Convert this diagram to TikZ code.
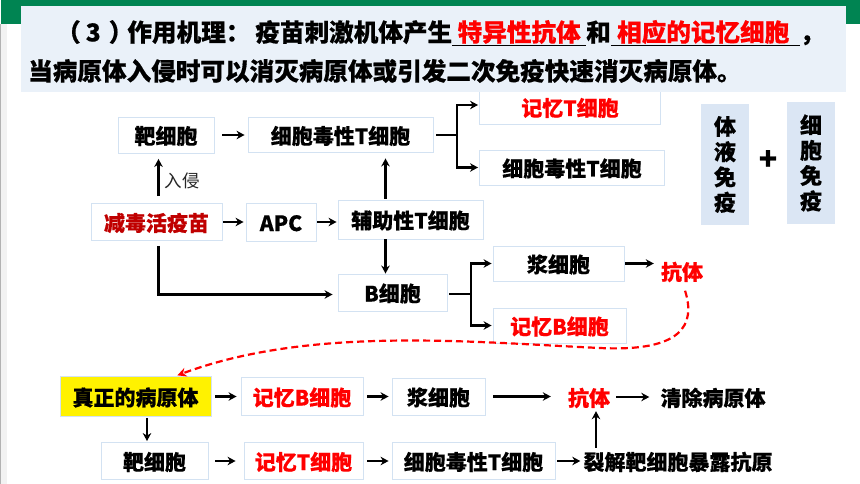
\documentclass[tikz,border=0pt]{standalone}
\usepackage{fontspec}
\setmainfont{Noto Sans CJK SC}[BoldFeatures={FakeBold=0.5}]
\usepackage{xcolor}
\usetikzlibrary{positioning,arrows.meta}
\definecolor{bandgreen}{HTML}{008452}
\definecolor{bannerblue}{HTML}{EAF1F9}
\definecolor{paneblue}{HTML}{DBE6F4}
\definecolor{edgeblue}{HTML}{D3E2F2}
\definecolor{vaccinered}{HTML}{C00000}
\tikzset{
  cellbox/.style={rectangle, draw=edgeblue, line width=0.9pt, fill=white, inner sep=0pt, text height=19pt, text depth=1pt, font=\fontsize{21}{21}\selectfont\bfseries},
  redtext/.style={text=red},
  plaintext/.style={inner sep=0pt, text height=19pt, text depth=1pt, font=\fontsize{21}{21}\selectfont\bfseries},
  paneltext/.style={rectangle, fill=paneblue, inner sep=0pt, minimum width=48pt, minimum height=121pt, align=center, font=\fontsize{22}{25.3}\selectfont\bfseries},
  bannertext/.style={inner sep=0pt, anchor=west, font=\fontsize{24.6}{24.6}\selectfont\bfseries},
  arr/.style={-{Stealth[length=8pt,width=8.5pt]}, line width=2.2pt, black, shorten <=#1},
  arr/.default=1pt,
  stem/.style={line width=2.2pt, black}
}
\newcommand{\blank}[2]{\underline{\makebox[#1pt]{\textcolor{red}{#2}}}}
\begin{document}
\begin{tikzpicture}[x=1pt,y=-1pt]
\useasboundingbox (0,0) rectangle (860,484);
\fill[white] (0,0) rectangle (860,484);
\fill[bandgreen] (1,0) rectangle (860,24);
\fill[black!30] (0,24) rectangle (1.3,484);
\fill[black!5] (1.3,24) rectangle (7,484);

% upper flow chart
\node (target1) [cellbox, minimum width=96pt, minimum height=36pt] at (166,135) {靶细胞};
\node (cytoT1) [cellbox, minimum width=185pt, minimum height=35pt] at (340.5,135) {细胞毒性T细胞};
\node (memT1) [cellbox, redtext, minimum width=181pt, minimum height=34pt] at (570,107) {记忆T细胞};
\node (cytoT2) [cellbox, minimum width=185pt, minimum height=35pt] at (572,167.5) {细胞毒性T细胞};
\node (vaccine) [cellbox, text=vaccinered, minimum width=131pt, minimum height=37pt] at (156.5,222) {减毒活疫苗};
\node (apc) [cellbox, minimum width=70pt, minimum height=38pt] at (281,222) {APC};
\node (helper) [cellbox, minimum width=145pt, minimum height=39pt] at (410.5,219.5) {辅助性T细胞};
\node (bcell) [cellbox, minimum width=109pt, minimum height=37pt] at (392.5,292.5) {B细胞};
\node (plasma1) [cellbox, minimum width=131pt, minimum height=35pt] at (558.5,263.5) {浆细胞};
\node (memB1) [cellbox, redtext, minimum width=133pt, minimum height=35pt] at (559.5,325.5) {记忆B细胞};
\node (antibody1) [plaintext, redtext] at (682,271) {抗体};
\node (invade) [inner sep=0pt, font=\fontsize{17.5}{17.5}\selectfont, text=black!85] at (182,181) {入侵};

% banner covers the top of the memory box
\node (banner) [rectangle, fill=bannerblue, inner sep=0pt, minimum width=825pt, minimum height=86pt] at (433.5,49) {};
\node (line1) [bannertext] at (56,33) {（\hspace{5pt}3\hspace{8pt}）\hspace{-6pt}作用机理：\hspace{5pt}疫苗刺激机体产生\blank{134}{特异性抗体}和\blank{189}{相应的记忆细胞\,}，};
\node (line2) [bannertext] at (28,71) {当病原体入侵时可以消灭病原体或引发二次免疫快速消灭病原体。};

% side panels
\node (humoral) [paneltext] at (725,164.5) {体\\液\\免\\疫};
\node (cellular) [paneltext] at (811,163) {细\\胞\\免\\疫};
\node (plus) [inner sep=0pt, font=\fontsize{30}{30}\selectfont\bfseries] at (768,160) {+};

% lower flow chart
\node (virus) [cellbox, fill=yellow, minimum width=151pt, minimum height=40pt] at (135.5,396.5) {真正的病原体};
\node (memB2) [cellbox, redtext, minimum width=122pt, minimum height=38pt] at (302,396.5) {记忆B细胞};
\node (plasma2) [cellbox, minimum width=93pt, minimum height=37pt] at (438.5,396.5) {浆细胞};
\node (antibody2) [plaintext, redtext] at (589,397) {抗体};
\node (clear) [plaintext] at (713,397) {清除病原体};
\node (target2) [cellbox, minimum width=107pt, minimum height=37pt] at (154.5,461) {靶细胞};
\node (memT2) [cellbox, redtext, minimum width=119pt, minimum height=37pt] at (303.5,461) {记忆T细胞};
\node (cytoT3) [cellbox, minimum width=163pt, minimum height=37pt] at (473.5,461) {细胞毒性T细胞};
\node (lysis) [plaintext] at (678,461) {裂解靶细胞暴露抗原};

\coordinate (fork1) at (457,135);
\coordinate (fork2) at (471,294);

% upper arrows
\draw[arr=8pt, shorten >=3pt] (target1) -- (cytoT1);
\draw[arr=7pt, shorten >=5.5pt] ([xshift=2pt]vaccine.north) -- ([xshift=-7.5pt]target1.south);
\draw[arr=1pt, shorten >=2pt] (vaccine) -- (apc);
\draw[arr=1pt, shorten >=1pt] (apc.east) -- (helper.west |- apc.east);
\draw[arr=1pt, shorten >=5.5pt] ([xshift=-25pt]helper.north) -- ([xshift=45pt]cytoT1.south);
\draw[arr=0pt] ([xshift=-25pt]helper.south) -- ([xshift=-7pt]bcell.north);
\draw[arr=5pt, shorten >=5pt] ([xshift=2pt]vaccine.south) |- ([yshift=-2pt]bcell.west);
\draw[stem, shorten <=3pt] (cytoT1.east) -- (fork1);
\draw[arr=0pt, shorten >=1pt] (fork1) |- ([yshift=2pt]memT1.west);
\draw[arr=0pt, shorten >=1pt] (fork1) |- (cytoT2.west);
\draw[stem, shorten <=2pt] ([yshift=-1.5pt]bcell.east) -- (fork2);
\draw[arr=0pt, shorten >=1pt] (fork2) |- (plasma1.west);
\draw[arr=0pt, shorten >=1pt] (fork2) |- (memB1.west);
\draw[arr=1pt, shorten >=7pt] (plasma1.east) -- (antibody1.west |- plasma1.east);

% red dashed return
\draw[red, line width=2.2pt, dash pattern=on 7pt off 4pt, -{Stealth[length=9pt,width=9pt]}, shorten <=10pt, shorten >=2pt] (antibody1.south) .. controls (696,325) and (682,352) .. (600,348) .. controls (470,342) and (310,326) .. ([xshift=40pt]virus.north);

% lower arrows
\draw[arr=4pt, shorten >=4pt] (virus) -- (memB2);
\draw[arr=4pt, shorten >=3pt] (memB2) -- (plasma2);
\draw[arr=8pt, shorten >=17pt] (plasma2.east) -- (antibody2.west |- plasma2.east);
\draw[arr=6pt, shorten >=11pt] (antibody2) -- (clear);
\draw[arr=1pt, shorten >=1pt] ([xshift=11.5pt]virus.south) -- ([xshift=-7.5pt]target2.north);
\draw[arr=7pt, shorten >=8pt] (target2) -- (memT2);
\draw[arr=4pt, shorten >=3pt] (memT2) -- (cytoT3);
\draw[arr=2pt, shorten >=3pt] (cytoT3) -- (lysis);
\draw[arr=3pt, shorten >=4pt] ([xshift=-82pt]lysis.north) -- ([xshift=7pt]antibody2.south);
\end{tikzpicture}
\end{document}
